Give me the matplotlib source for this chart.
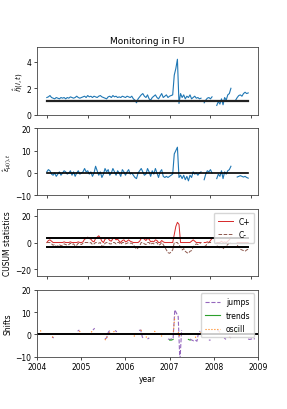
import numpy as np
import matplotlib
matplotlib.use("Agg")
import matplotlib.pyplot as plt

nan = np.nan

# sampling: every two weeks from 2004.0
n_points = 129
years = [2004, 2005, 2006, 2007, 2008, 2009]

eta = [1.3,1.35,1.45,1.3,1.25,1.2,1.3,1.25,1.2,1.3,1.25,1.3,1.2,
       1.3,1.25,1.35,1.3,1.25,1.3,1.4,1.3,1.25,1.3,1.35,1.4,1.3,
       1.45,1.35,1.4,1.3,1.4,1.35,1.3,1.4,1.45,1.35,1.3,1.25,1.2,
       1.35,1.4,1.3,1.45,1.35,1.4,1.3,1.35,1.3,1.4,1.35,1.3,1.4,
       1.35,1.3,1.4,1.2,1.1,0.9,1.2,1.35,1.5,1.6,1.4,1.3,1.5,
       1.2,1.1,1.3,1.4,1.5,1.3,1.2,1.4,1.6,1.3,1.4,1.5,1.3,
       1.4,1.45,1.5,3.0,3.5,4.2,0.85,1.6,1.3,1.5,1.2,1.4,1.3,
       1.5,1.2,1.3,1.4,1.25,1.3,1.2,1.25,nan,0.9,1.1,1.25,1.3,
       1.2,1.35,nan,nan,0.7,1.0,0.8,1.2,0.75,1.3,1.1,1.5,1.6,
       2.0,nan,nan,1.1,1.3,1.45,1.5,1.4,1.6,1.7,1.6,1.65]

eps = [0.5,1.5,1.0,-0.5,-1.0,0.0,-1.5,-0.5,0.5,-1.0,0.0,1.0,0.5,
       -0.5,0.0,1.0,-1.0,0.5,-1.5,0.0,1.0,-0.5,0.0,0.5,2.0,0.5,
       1.0,-0.5,0.5,-1.5,0.0,3.0,1.0,-1.0,0.5,-2.0,-0.5,2.0,0.5,
       1.5,-1.0,0.0,2.0,0.5,-1.0,1.0,0.0,-1.5,1.5,0.5,-1.0,0.5,
       1.5,-0.5,0.0,-1.0,-2.0,-2.5,0.0,1.0,2.0,0.5,-1.0,-0.5,2.0,
       0.5,-1.5,1.0,-0.5,2.0,0.0,-2.0,0.5,1.5,-1.5,-2.0,-1.5,-2.0,
       -1.5,-1.0,-0.5,8.5,10.0,11.5,-2.0,-1.0,-2.5,-1.0,-3.0,-1.5,-3.5,
       -1.0,-2.0,0.5,-0.5,0.0,-1.0,0.0,0.5,nan,-3.0,-0.5,1.0,0.5,
       1.5,0.0,nan,nan,-2.5,-0.5,-1.5,1.0,-2.5,0.5,-0.5,1.0,1.5,
       3.0,nan,nan,nan,-1.8,-1.5,-1.2,-1.5,-1.8,-1.5,-2.0,-2.3]

c_plus = [0,1.5,2.0,1.0,0,0,0,0,0,0,0,0.5,0,
          0,0,0.5,0,0,0,0,0.5,0,0,0.5,2.5,3.0,
          4.0,3.0,2.5,1.0,0.5,3.0,4.0,5.0,3.5,1.0,0,2.5,3.0,
          3.0,1.5,1.0,3.0,3.5,2.0,2.5,1.0,0,1.5,2.0,0.5,1.0,
          2.0,1.0,0.5,0,0,0,0,1.0,3.0,3.5,2.5,1.5,3.0,
          2.5,0.5,1.0,0.5,2.0,1.5,0,0,1.5,0.5,0,0,0,
          0,0,0,6.0,12.0,15.0,13.5,0,0,0,0,0,0,
          0,1.0,2.0,1.0,0,0,0,0,nan,0,0,0.5,0,
          1.5,3.0,nan,nan,0,0,0,1.0,0,0.5,0,1.0,2.0,
          4.0,nan,nan,nan,0,0,0,0,0,0,0,0]

c_minus = [0,0,0,-1.0,-2.0,-1.5,-3.0,-2.5,-1.5,-2.5,-2.0,-1.0,-1.5,
           -2.0,-1.5,-0.5,-1.5,-1.0,-2.5,-2.0,-0.5,-1.0,-1.5,-0.5,0,0,
           0,-0.5,0,-1.5,-1.0,0,0,-0.5,0,-2.5,-3.0,-0.5,0,
           0,-1.0,-1.0,0,0,-1.0,0,0,-1.5,0,0,-1.0,-0.5,
           0,-0.5,-0.5,-1.5,-3.5,-5.0,-4.0,-2.5,0,0,-1.0,-1.5,0,
           0,-1.5,-0.5,-1.0,0,0,-2.0,-1.5,0,-1.5,-3.5,-5.5,-7.5,
           -8.0,-7.0,-5.5,0,0,0,-2.0,-3.0,-5.5,-4.5,-6.5,-7.5,-8.0,
           -6.5,-6.0,-3.5,-2.0,-1.0,-1.5,-1.0,0,nan,-3.0,-2.5,-0.5,0,
           0,0,nan,nan,-2.5,-3.0,-4.5,-3.0,-5.0,-3.0,-2.5,-1.5,0,
           0,nan,nan,nan,-2.0,-3.5,-5.0,-5.5,-6.0,-6.5,-5.5,-5.0]

eta_ref = 1.0
cusum_h = 3.0

jump_idx = [9,10, 24,25, 33,34, 40,41, 42,43, 46,47, 60,61, 62,63, 65,66,
            77,78,79,80,81,82,83,84,85, 90,91,92,93,94, 95,96, 101,102,
            106,107, 110,111, 113,114, 124,125,126,127,128]
jump_val = [-1.2,-1.5, 1.5,2.0, 2.0,2.8, -2.0,-1.5, 1.0,2.0, 1.8,1.2, 1.8,2.0,
            -1.2,-1.8, -2.0,-1.5,
            -2.0,-2.2,-2.0,-2.0,11.0,9.5,8.0,-12.0,2.0, -2.0,-2.5,-2.8,-2.5,-3.0,
            1.0,1.5, -2.5,-2.5, 1.8,1.5, -1.5,-2.2, -1.0,-1.5,
            -2.0,-2.2,-2.0,-1.8,-2.0]

trend_idx = [78,79,80, 89,90, 117,118]
trend_val = [-2.5,-2.5,-2.2, -2.2,-2.5, 1.0,2.5]

osc_idx = [2,3, 9,10, 25,26, 32,33, 40,41, 42,43, 45,46, 57,58, 61,62, 64,65,
           69,70, 73,74, 80,81, 83,84, 93,94, 96,97, 107,108, 113,114, 116,117]
osc_val = [1.5,1.8, -1.0,-1.3, 1.2,1.8, 1.0,2.0, -2.5,-1.5, 0.5,1.0, 1.2,1.5,
           -0.5,-1.2, 2.0,1.5, -1.0,-1.5, 1.5,1.0, -0.5,-1.2, 0.0,8.0, 1.0,-1.0,
           -1.0,-2.0, 0.5,1.5, 1.0,1.5, -1.0,-2.0, 1.0,2.0]

t = 2004 + np.arange(n_points) / 26.0

def sparse(idx, val):
    a = np.full(n_points, np.nan)
    a[idx] = val
    return a

jumps = sparse(jump_idx, jump_val)
trends = sparse(trend_idx, trend_val)
oscill = sparse(osc_idx, osc_val)

fs = 5.5
plt.rcParams.update({
    "font.size": fs,
    "axes.linewidth": 0.6,
    "axes.edgecolor": "#444444",
    "xtick.major.size": 2.5, "ytick.major.size": 2.5,
    "xtick.major.width": 0.5, "ytick.major.width": 0.5,
    "xtick.major.pad": 1.5, "ytick.major.pad": 1.5,
})

fig, axes = plt.subplots(4, 1, figsize=(2.87, 4.1), dpi=100)
fig.subplots_adjust(left=0.128, right=0.9, top=0.882, bottom=0.127, hspace=0.2)
ax1, ax2, ax3, ax4 = axes

lw = 0.8
ax1.plot(t, eta, color="tab:blue", lw=lw)
ax1.plot(t, np.full(n_points, eta_ref), color="#222222", lw=1.6)
ax1.set_ylim(0, 5.1)
ax1.set_yticks([0, 2, 4])
ax1.set_title("Monitoring in FU", fontsize=6.5, pad=3)
ax1.set_ylabel(r"$\hat{\tilde{\eta}}(i,t)$", fontsize=5, labelpad=1)

ax2.plot(t, eps, color="tab:blue", lw=lw)
ax2.plot(t, np.zeros(n_points), color="k", lw=1.2)
ax2.set_ylim(-10, 20)
ax2.set_yticks([-10, 0, 10, 20])
ax2.set_ylabel(r"$\hat{\varepsilon}_{\mu(i),t}$", fontsize=5, labelpad=1)

ax3.plot(t, c_plus, color="tab:red", lw=0.7, label="C+")
ax3.plot(t, c_minus, color="tab:brown", lw=0.7, ls="--", label="C-")
ax3.plot(t, np.full(n_points, cusum_h), color="k", lw=1.4)
ax3.plot(t, np.full(n_points, -cusum_h), color="k", lw=1.4)
ax3.set_ylim(-25, 25)
ax3.set_yticks([-20, 0, 20])
ax3.set_ylabel("CUSUM statistics", fontsize=fs, labelpad=2)
ax3.legend(loc="upper right", fontsize=fs, handlelength=2.0, borderpad=0.5,
           labelspacing=0.6)

for ax in (ax1, ax2, ax3):
    ax.set_xticks(years)
    ax.set_xticklabels([])

ax4.plot(t, jumps, color="tab:purple", lw=0.8, ls="--", label="jumps")
ax4.plot(t, trends, color="tab:green", lw=0.8, label="trends")
ax4.plot(t, oscill, color="tab:orange", lw=0.8, ls=":", label="oscill")
ax4.axhline(0, color="k", lw=1.4)
ax4.set_xlim(2004, 2009)
ax4.set_ylim(-10, 20)
ax4.set_yticks([-10, 0, 10, 20])
ax4.set_xticks(years)
ax4.set_xticklabels([str(y) for y in years])
ax4.set_xlabel("year", fontsize=fs, labelpad=2)
ax4.set_ylabel("Shifts", fontsize=fs, labelpad=2)
ax4.legend(loc="upper right", fontsize=fs, handlelength=2.0, borderpad=0.5,
           labelspacing=0.6)

fig.savefig("out.png", dpi=100)
